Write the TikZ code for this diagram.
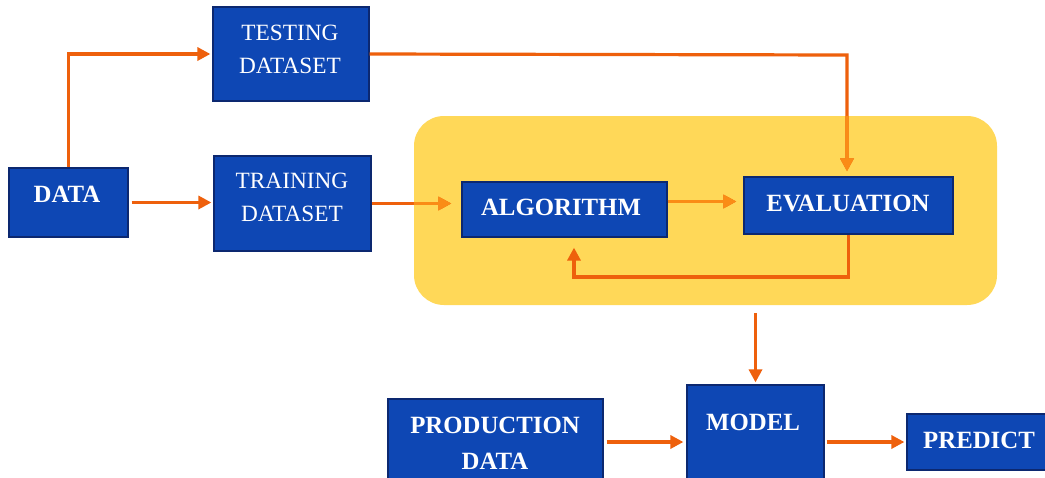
\documentclass[tikz,border=0pt]{standalone}
\usepackage{fontspec}
\setmainfont{Liberation Serif}
\usetikzlibrary{arrows.meta,calc}

\definecolor{boxblue}{RGB}{14,71,180}
\definecolor{boxedge}{RGB}{12,40,112}
\definecolor{flow}{RGB}{238,96,12}
\definecolor{flowamber}{RGB}{250,140,22}
\definecolor{panel}{RGB}{255,216,88}

\tikzset{
  blockbox/.style={draw=boxedge, line width=1.2pt, fill=boxblue, inner sep=0pt},
  plaintxt/.style={text=white, anchor=base, inner sep=0pt,
                   font=\fontsize{23.3}{28}\selectfont},
  boldtxt/.style={text=white, anchor=base, inner sep=0pt,
                  font=\fontsize{24.8}{30}\selectfont\bfseries},
  flowarrow/.style={draw=flow, line width=3.2pt,
                    -{Triangle[length=13pt,width=13pt]}},
  panelbox/.style={fill=panel, rounded corners=30pt, inner sep=0pt}
}

\begin{document}
\begin{tikzpicture}[x=1pt, y=-1pt]
  \clip (0,0) rectangle (1045,477);
  \fill[white] (0,0) rectangle (1045,477);

  % yellow panel holding the learning loop
  \node[panelbox, minimum width=583pt, minimum height=189pt] (panel) at (705.5,210.5) {};

  % blocks
  \node[blockbox, minimum width=156pt, minimum height=94pt] (test)  at (291,54) {};
  \node[blockbox, minimum width=157pt, minimum height=95pt] (train) at (292.5,203.5) {};
  \node[blockbox, minimum width=119pt, minimum height=69pt] (data)  at (68.5,202.5) {};
  \node[blockbox, minimum width=205pt, minimum height=55pt] (alg)   at (564.5,209.5) {};
  \node[blockbox, minimum width=209pt, minimum height=57pt] (eval)  at (848.5,205.5) {};
  \node[blockbox, minimum width=137pt, minimum height=100pt] (model) at (755.5,435) {};
  \node[blockbox, minimum width=215pt, minimum height=86pt] (prod)  at (495.5,442) {};
  \node[blockbox, minimum width=143pt, minimum height=56pt] (pred)  at (978.5,442) {};

  % block labels
  \node[plaintxt] (testA)  at (290,40)  {TESTING};
  \node[plaintxt] (testB)  at (290,73)  {DATASET};
  \node[plaintxt] (trainA) at (292,188) {TRAINING};
  \node[plaintxt] (trainB) at (292,221) {DATASET};
  \node[boldtxt]  (dataT)  at (67,202)  {DATA};
  \node[boldtxt]  (algT)   at (561,215) {ALGORITHM};
  \node[boldtxt]  (evalT)  at (848,211) {EVALUATION};
  \node[boldtxt]  (modelT) at (753,430) {MODEL};
  \node[boldtxt]  (predT)  at (979,448) {PREDICT};
  \node[boldtxt]  (prodA)  at (495,433) {PRODUCTION};
  \node[boldtxt]  (prodB)  at (495,469) {DATA};

  % bend points
  \coordinate (tbend) at (847,55);
  \coordinate (fb)    at (574,277);
  \coordinate (aout)  at ($(alg.east)+(0,-8)$);

  % connectors
  \draw[flowarrow, shorten >=2pt] (data.north) |- (test.west);
  \draw[flowarrow, shorten <=3pt, shorten >=2pt] (data.east) -- (data.east -| train.west);
  \draw[flowarrow, shorten >=10pt] (train.east) -- (train.east -| alg.west);
  \draw[flowarrow, shorten >=5pt] (test.east) -- (tbend) -- (tbend |- eval.north);
  \draw[flowarrow, shorten >=7pt] (aout) -- (aout -| eval.west);

  % the parts of those connectors lying on the panel look amber
  \begin{scope}
    \clip[rounded corners=30pt] (panel.north west) rectangle (panel.south east);
    \draw[flowarrow, draw=flowamber, shorten >=10pt] (train.east) -- (train.east -| alg.west);
    \draw[flowarrow, draw=flowamber, shorten >=5pt] (test.east) -- (tbend) -- (tbend |- eval.north);
    \draw[flowarrow, draw=flowamber, shorten >=7pt] (aout) -- (aout -| eval.west);
  \end{scope}

  \draw[flowarrow, shorten >=10pt] (eval.south) |- (fb) -- (fb |- alg.south);
  \draw[flowarrow, shorten <=8pt, shorten >=2pt] (panel.south -| model.north) -- (model.north);
  \draw[flowarrow, shorten <=3pt, shorten >=3pt] (prod.east) -- (prod.east -| model.west);
  \draw[flowarrow, shorten <=2pt, shorten >=2pt] (model.east |- pred.west) -- (pred.west);
\end{tikzpicture}
\end{document}
